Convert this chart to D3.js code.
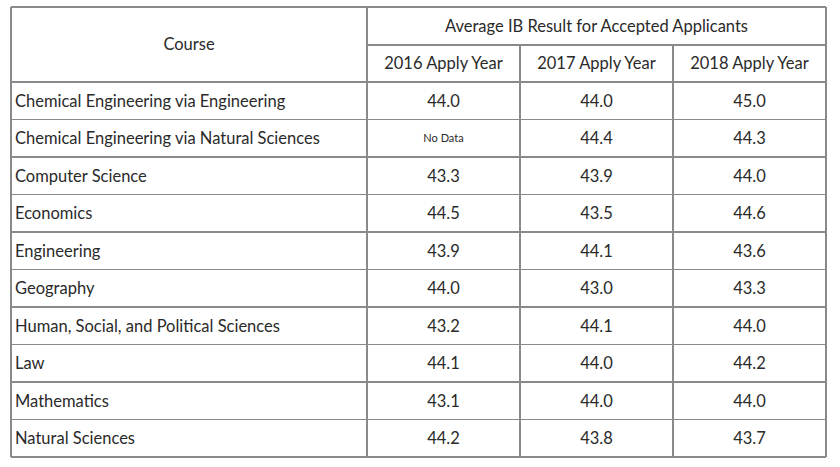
<!DOCTYPE html>
<html>
<head>
<meta charset="utf-8">
<script src="https://cdn.jsdelivr.net/npm/d3@7"></script>
<style>
	body { margin: 0; background: #fff; }
	svg text { font-family: "Lato", sans-serif; fill: #2a2a2a; }
	.grid { stroke: #8a8a8a; stroke-width: 1.3; shape-rendering: crispEdges; }
</style>
</head>
<body>
<div id="chart"></div>
<script>
	const courses = [
		"Chemical Engineering via Engineering",
		"Chemical Engineering via Natural Sciences",
		"Computer Science",
		"Economics",
		"Engineering",
		"Geography",
		"Human, Social, and Political Sciences",
		"Law",
		"Mathematics",
		"Natural Sciences"
	];

	const years = [ "2016 Apply Year", "2017 Apply Year", "2018 Apply Year" ];

	const results2016 = [ 44.0, null, 43.3, 44.5, 43.9, 44.0, 43.2, 44.1, 43.1, 44.2 ];
	const results2017 = [ 44.0, 44.4, 43.9, 43.5, 44.1, 43.0, 44.1, 44.0, 44.0, 43.8 ];
	const results2018 = [ 45.0, 44.3, 44.0, 44.6, 43.6, 43.3, 44.0, 44.2, 44.0, 43.7 ];

	const groupTitle = "Average IB Result for Accepted Applicants";
	const courseTitle = "Course";
	const missingLabel = "No Data";

	const width = 840;
	const height = 467;
	const tableLeft = 11, courseRight = 367, tableRight = 826;
	const tableTop = 7, subTop = 45, headBottom = 82, tableBottom = 457;
	const fontSize = 16.5;

	const series = [ results2016, results2017, results2018 ];

	const svg = d3.select("#chart").append("svg")
		.attr("width", width)
		.attr("height", height);

	const y = d3.scaleBand().domain(courses).range([headBottom, tableBottom]);
	const x = d3.scaleBand().domain(years).range([courseRight, tableRight]);

	// grid lines
	const grid = svg.append("g").attr("class", "grid-lines");
	const hLines = [ tableTop, headBottom, ...courses.map((d) => y(d) + y.bandwidth()) ];
	grid.selectAll("line.h").data(hLines).enter()
		.append("line").attr("class", "grid")
		.attr("x1", tableLeft).attr("x2", tableRight)
		.attr("y1", (d) => d).attr("y2", (d) => d);

	grid.append("line").attr("class", "grid")
		.attr("x1", courseRight).attr("x2", tableRight)
		.attr("y1", subTop).attr("y2", subTop);

	const vLines = [ tableLeft, courseRight, tableRight ];
	grid.selectAll("line.v").data(vLines).enter()
		.append("line").attr("class", "grid")
		.attr("x1", (d) => d).attr("x2", (d) => d)
		.attr("y1", tableTop).attr("y2", tableBottom);

	grid.selectAll("line.yv").data(years.slice(1)).enter()
		.append("line").attr("class", "grid")
		.attr("x1", (d) => x(d)).attr("x2", (d) => x(d))
		.attr("y1", subTop).attr("y2", tableBottom);

	// headers
	svg.append("text")
		.attr("x", (tableLeft + courseRight) / 2)
		.attr("y", (tableTop + headBottom) / 2)
		.attr("dy", "0.35em")
		.attr("text-anchor", "middle")
		.style("font-size", `${fontSize}px`)
		.text(courseTitle);

	svg.append("text")
		.attr("x", (courseRight + tableRight) / 2)
		.attr("y", (tableTop + subTop) / 2)
		.attr("dy", "0.35em")
		.attr("text-anchor", "middle")
		.style("font-size", `${fontSize}px`)
		.text(groupTitle);

	svg.selectAll("text.year").data(years).enter()
		.append("text").attr("class", "year")
		.attr("x", (d) => x(d) + x.bandwidth() / 2)
		.attr("y", (subTop + headBottom) / 2)
		.attr("dy", "0.35em")
		.attr("text-anchor", "middle")
		.style("font-size", `${fontSize}px`)
		.text((d) => d);

	// rows
	svg.selectAll("text.course").data(courses).enter()
		.append("text").attr("class", "course")
		.attr("x", tableLeft + 4)
		.attr("y", (d) => y(d) + y.bandwidth() / 2)
		.attr("dy", "0.35em")
		.style("font-size", `${fontSize}px`)
		.text((d) => d);

	series.forEach((values, i) => {
		svg.selectAll(`text.v${i}`).data(values).enter()
			.append("text").attr("class", `v${i}`)
			.attr("x", x(years[i]) + x.bandwidth() / 2)
			.attr("y", (d, j) => y(courses[j]) + y.bandwidth() / 2)
			.attr("dy", "0.35em")
			.attr("text-anchor", "middle")
			.style("font-size", (d) => d === null ? "11px" : `${fontSize}px`)
			.text((d) => d === null ? missingLabel : d.toFixed(1));
	});
</script>
</body>
</html>
